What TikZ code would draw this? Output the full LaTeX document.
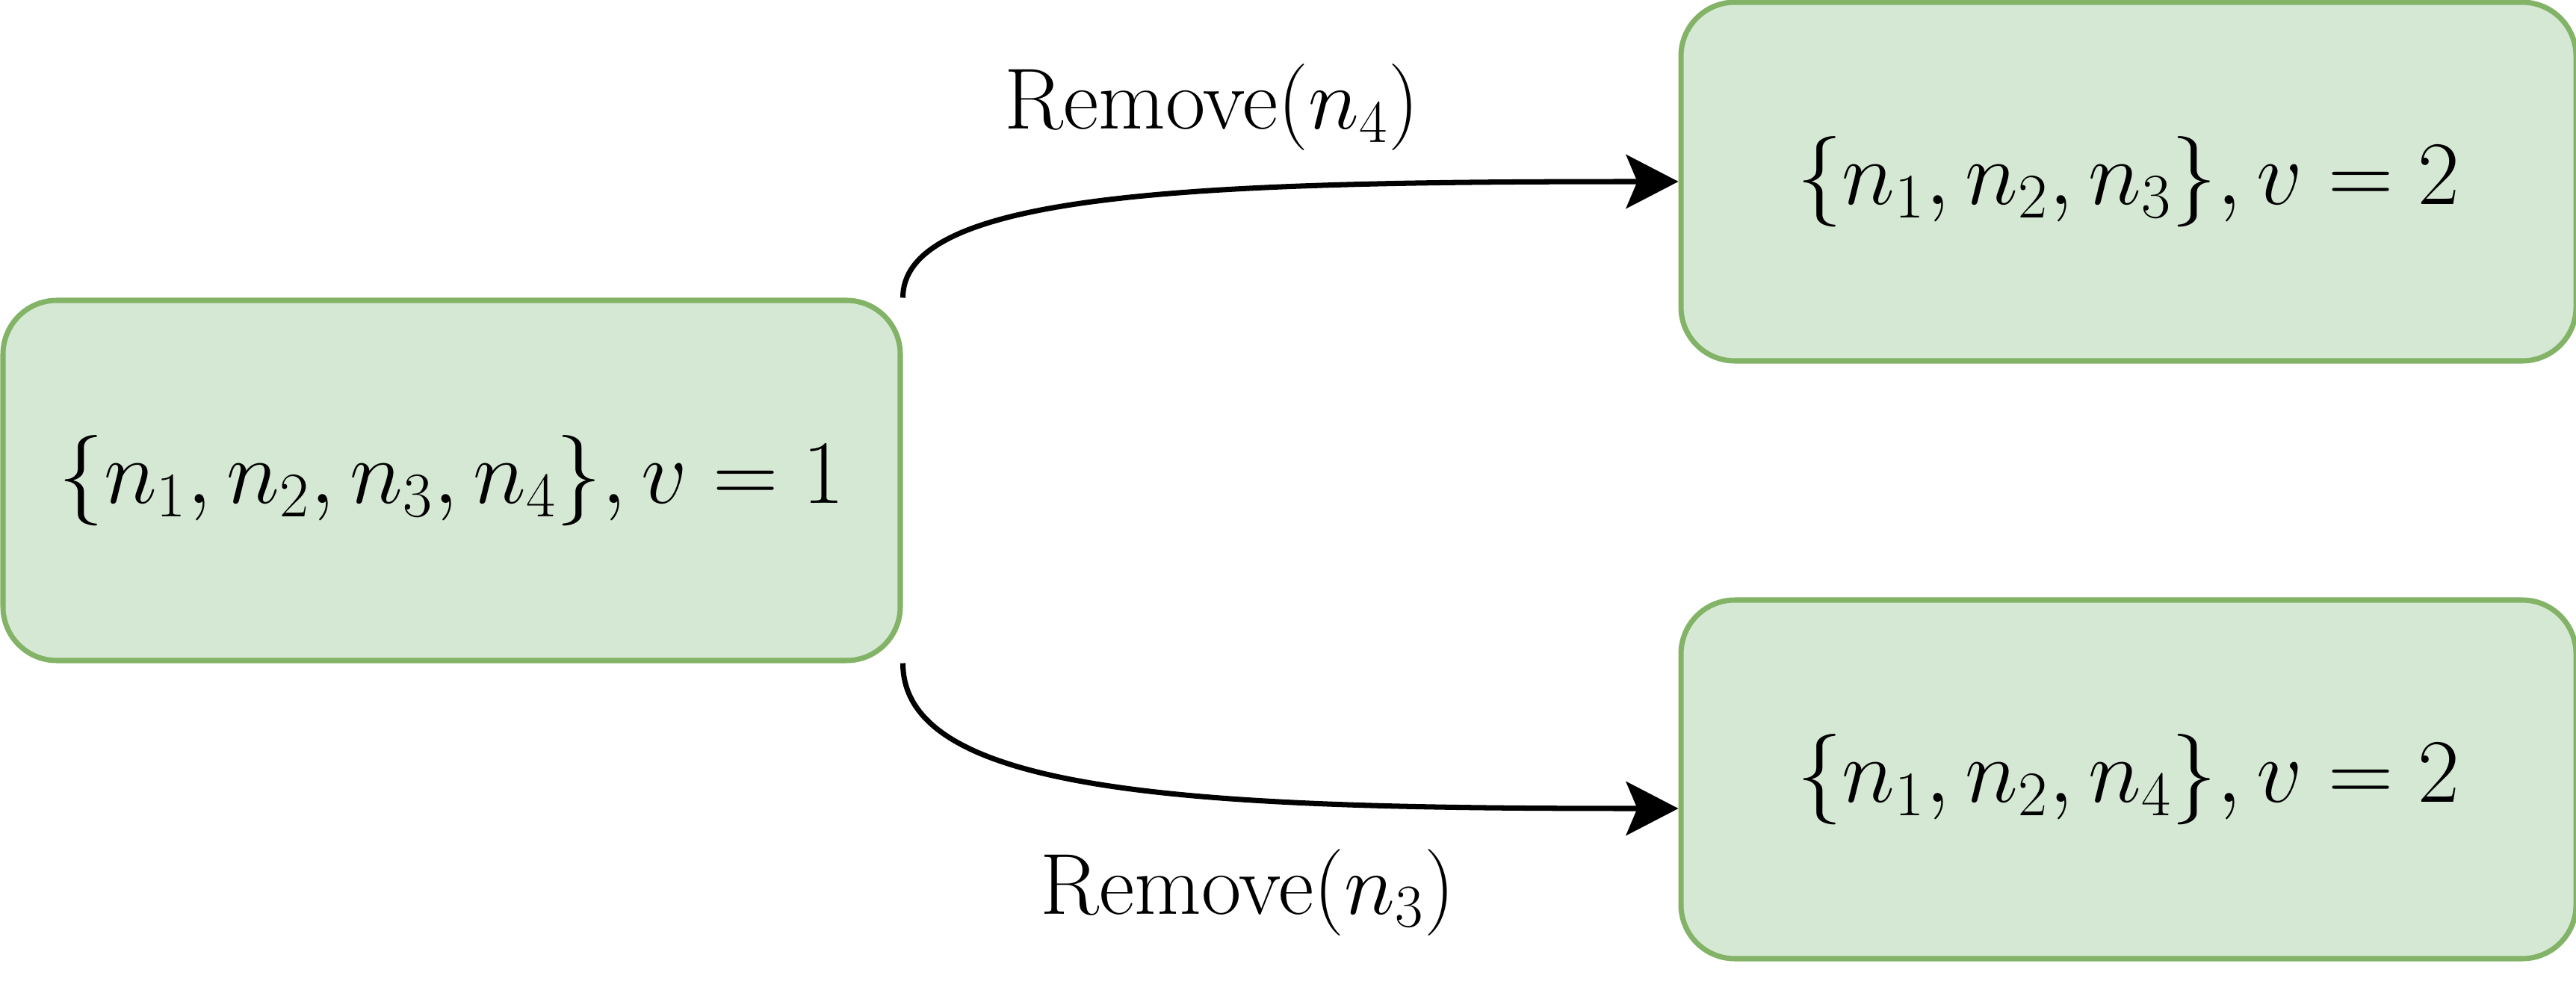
\documentclass[tikz,border=0pt]{standalone}
\usepackage{fix-cm}
\usepackage{amsmath}
\usetikzlibrary{positioning}
\usetikzlibrary{shapes.geometric, arrows.meta, positioning}
\definecolor{boxfill}{HTML}{D5E8D4}
\definecolor{boxline}{HTML}{82B366}
\tikzstyle{setbox} = [draw=boxline, fill=boxfill, line width=2pt, rounded corners=0.72cm, minimum width=11.98cm, minimum height=4.8cm, font=\fontsize{34.5}{41}\selectfont]
\tikzstyle{arrow} = [line width=2pt, -{Stealth[length=0.7cm, width=0.72cm, inset=0.15cm]}]
\tikzstyle{steplabel} = [anchor=base, font=\fontsize{33}{40}\selectfont]

\begin{document}
\begin{tikzpicture}
    \useasboundingbox (0,0) rectangle (34.48,13.44);

    % Start state
    \node[setbox, minimum width=12.01cm, minimum height=4.82cm] (init) at (6.045,7.01) {$\{n_1,n_2,n_3,n_4\},v=1$};

    % States after one removal
    \node[setbox, right=10.38cm of init, yshift=4cm] (keep3) {$\{n_1,n_2,n_3\},v=2$};
    \node[setbox, right=10.38cm of init, yshift=-4cm] (keep4) {$\{n_1,n_2,n_4\},v=2$};

    % Transitions
    \draw[arrow] (init.north east) .. controls +(0,1.42) and +(-6.4,0) .. (keep3.west);
    \draw[arrow] (init.south east) .. controls +(0,-1.78) and +(-6.36,0) .. ([yshift=-0.39cm]keep4.west);

    \node[steplabel] (rm4) at (16.22,11.71) {Remove$(n_4)$};
    \node[steplabel] (rm3) at (16.70,1.21) {Remove$(n_3)$};
\end{tikzpicture}
\end{document}
